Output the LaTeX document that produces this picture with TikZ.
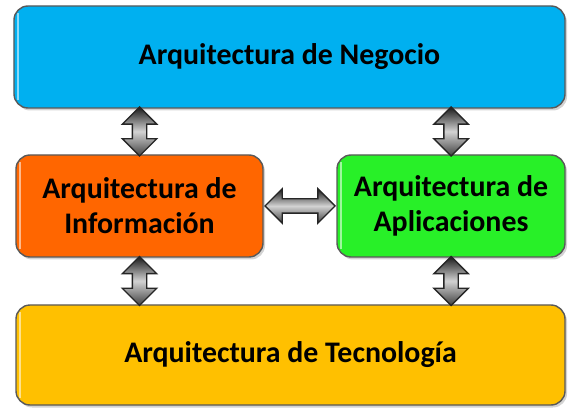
\documentclass[tikz,border=0pt]{standalone}
\usepackage{fontspec}
\setmainfont{Carlito}
\usetikzlibrary{shapes.arrows, calc, shadows}
\definecolor{negociocol}{RGB}{0,176,240}
\definecolor{infocol}{RGB}{255,102,0}
\definecolor{appscol}{RGB}{40,240,40}
\definecolor{tecnocol}{RGB}{255,192,0}
\tikzstyle{box} = [rectangle, rounded corners=8pt, minimum height=2.04cm, text centered, align=center, draw=black!65, thick, font=\fontsize{17}{20}\selectfont\bfseries, drop shadow={opacity=0.35, shadow xshift=0.04cm, shadow yshift=-0.05cm}, path picture={\draw[white, opacity=0.55, line width=1.6pt] ($(path picture bounding box.north west)+(0.08,-0.15)$) -- ($(path picture bounding box.south west)+(0.08,0.15)$);}]
\tikzstyle{dblarrow} = [double arrow, draw=black!85, thick, inner xsep=0pt, inner ysep=0.13cm, double arrow head extend=0.2cm, top color=black!90, bottom color=black!75, middle color=gray!35]

\begin{document}
\begin{tikzpicture}
    \useasboundingbox (0,0) rectangle (11.56,-8.24);
    % Nodes
    \node (negocio) [box, fill=negociocol, minimum width=11.02cm] at (5.79,-1.14) {Arquitectura de Negocio};
    \node (info) [box, fill=infocol, minimum width=4.94cm] at ($(negocio)+(-3,-2.98)$) {Arquitectura de\\Información};
    \node (apps) [box, fill=appscol, minimum width=4.56cm] at ($(negocio)+(3.23,-2.98)$) {Arquitectura de\\Aplicaciones};
    \node (tecno) [box, fill=tecnocol, minimum width=10.98cm, minimum height=2.0cm] at ($(negocio)+(0.02,-5.96)$) {Arquitectura de Tecnología};

    % double arrows
    \node (a1) [dblarrow, rotate=90, minimum height=0.98cm] at ($(info.north)!0.5!(info.north |- negocio.south)$) {};
    \node (a2) [dblarrow, rotate=90, minimum height=0.98cm] at ($(apps.north)!0.5!(apps.north |- negocio.south)$) {};
    \node (a3) [dblarrow, rotate=90, minimum height=0.98cm] at ($(info.south)!0.5!(info.south |- tecno.north)$) {};
    \node (a4) [dblarrow, rotate=90, minimum height=0.98cm] at ($(apps.south)!0.5!(apps.south |- tecno.north)$) {};
    \node (a5) [dblarrow, minimum height=1.4cm] at ($(info.east)!0.5!(apps.west)$) {};
\end{tikzpicture}
\end{document}
